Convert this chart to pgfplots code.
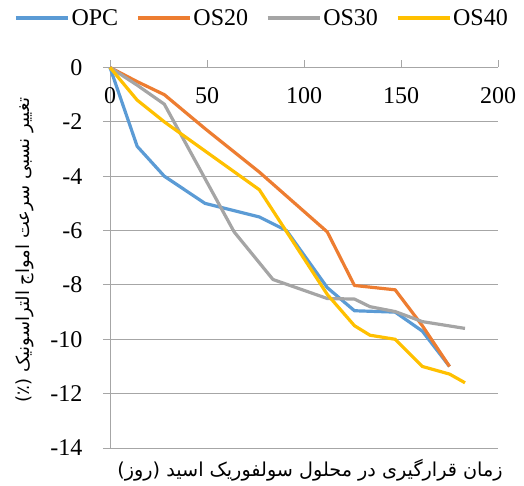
\documentclass[border=0pt]{standalone}
\usepackage{fontspec}
\setmainfont{Liberation Serif}
\newfontfamily\persian[Script=Arabic]{DejaVu Sans}
\TeXXeTstate=1
\usepackage{pgfplots}
\pgfplotsset{compat=1.18}

\definecolor{cOPC}{HTML}{5B9BD5}
\definecolor{cOSa}{HTML}{ED7D31}
\definecolor{cOSb}{HTML}{A5A5A5}
\definecolor{cOSc}{HTML}{FFC000}
\definecolor{gridc}{HTML}{A6A6A6}

\begin{document}
\begin{tikzpicture}
\path[use as bounding box] (0bp,0bp) rectangle (524bp,486bp);
\begin{axis}[
  at={(110bp,38bp)}, anchor=south west,
  scale only axis, width=388bp, height=380.5bp,
  xmin=0, xmax=200, ymin=-14, ymax=0,
  axis x line=top, axis y line=left,
  axis line style={draw=gridc, line width=0.9pt, -},
  xtick={0,50,100,150,200},
  ytick={0,-2,-4,-6,-8,-10,-12,-14},
  yticklabels={0,-2,-4,-6,-8,-10,-12,-14},
  xticklabels={0,50,100,150,200},
  tick align=outside,
  major tick length=7bp,
  tick style={draw=gridc, line width=0.9pt},
  ymajorgrids,
  grid style={draw=gridc, line width=0.9pt},
  tick label style={font=\fontsize{24bp}{28bp}\selectfont},
  xticklabel style={anchor=north, yshift=-24bp},
  yticklabel style={anchor=east, xshift=-17bp},
  legend columns=4,
  legend style={at={(0.392,1.13)}, anchor=center, draw=none, fill=none,
    font=\fontsize{24bp}{28bp}\selectfont,
    /tikz/every even column/.append style={column sep=16bp}},
  legend image code/.code={\draw[#1] (0bp,0bp) -- (52bp,0bp);},
  every axis plot/.append style={line width=3.2bp, line join=round},
  clip=false,
]
\addplot[cOPC] coordinates {
  (0,0) (14,-2.9) (28,-4) (49,-5) (77,-5.5) (91,-6) (112,-8.1)
  (126,-8.95) (147,-9) (161,-9.7) (175,-11)};
\addlegendentry{OPC}
\addplot[cOSa] coordinates {
  (0,0) (14,-0.52) (28,-1) (49,-2.25) (77,-3.85) (112,-6.05)
  (126,-8.02) (147,-8.18) (161,-9.5) (175,-11)};
\addlegendentry{OS20}
\addplot[cOSb] coordinates {
  (0,0) (14,-0.65) (28,-1.35) (64,-6.05) (84,-7.8) (112,-8.5)
  (126,-8.52) (134,-8.8) (147,-8.98) (161,-9.35) (183,-9.6)};
\addlegendentry{OS30}
\addplot[cOSc] coordinates {
  (0,0) (14,-1.2) (28,-2) (77,-4.5) (112,-8.35) (126,-9.5)
  (134,-9.85) (147,-10) (161,-11) (175,-11.28) (183,-11.6)};
\addlegendentry{OS40}
\end{axis}
% axis titles
\node[anchor=center, font=\persian\fontsize{19.2bp}{22bp}\selectfont]
  at (310bp,16bp) {\beginR زمان قرارگیری در محلول سولفوریک اسید (روز)\endR};
\node[anchor=center, rotate=90, font=\persian\fontsize{18bp}{21bp}\selectfont]
  at (25bp,236bp) {\beginR تغییر نسبی سرعت امواج التراسونیک (٪)\endR};
\end{tikzpicture}
\end{document}
